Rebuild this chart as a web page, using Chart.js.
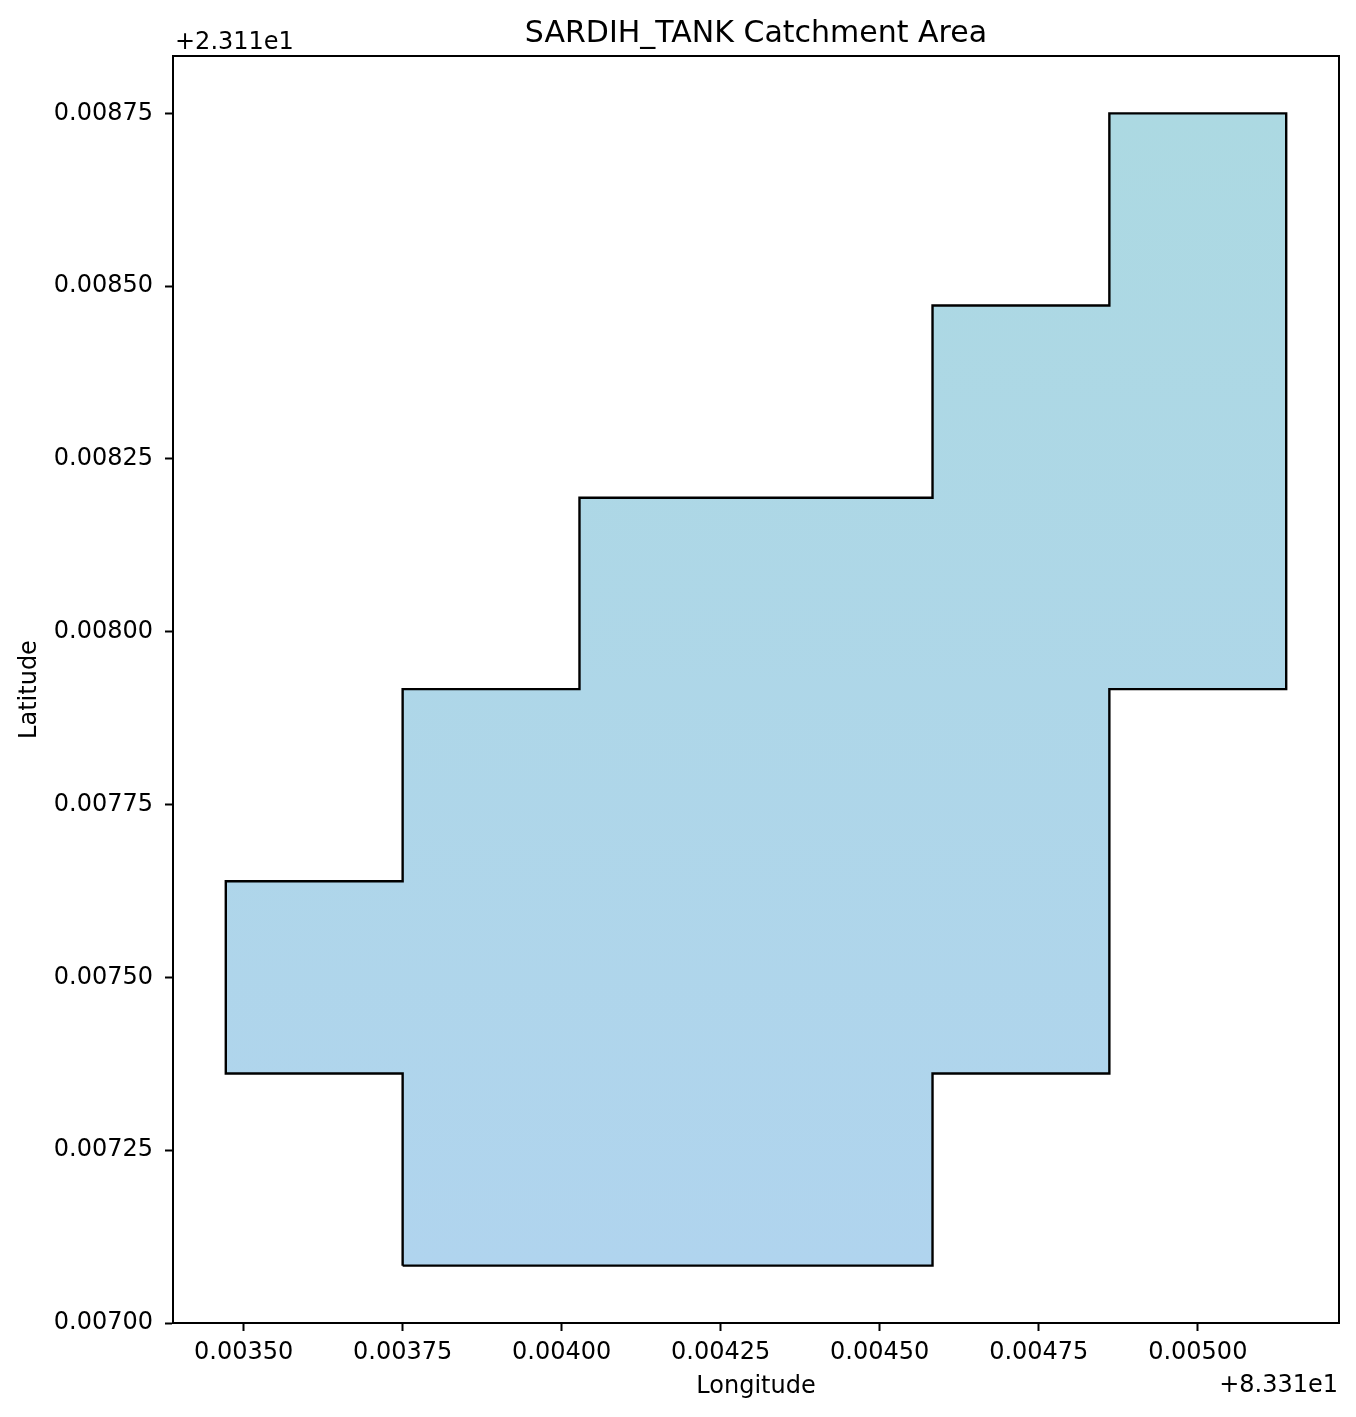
<!DOCTYPE html>
<html>
<head>
<meta charset="utf-8">
<script src="https://cdn.jsdelivr.net/npm/chart.js@4.4.1/dist/chart.umd.min.js"></script>
<style>
  html, body { margin: 0; padding: 0; background: #fff; }
  #wrap { width: 1356px; height: 1417px; }
</style>
</head>
<body>
<div id="wrap"><canvas id="catchment" width="1356" height="1417"></canvas></div>
<script>
// polygon vertices of the catchment outline (degrees), closed ring
const polyLon = [83.313750, 83.314583, 83.314583, 83.314861, 83.314861, 83.315139, 83.315139,
                 83.314861, 83.314861, 83.314583, 83.314583, 83.314028, 83.314028, 83.313750,
                 83.313750, 83.313472, 83.313472, 83.313750, 83.313750];
const polyLat = [23.117083, 23.117083, 23.117361, 23.117361, 23.117917, 23.117917, 23.118750,
                 23.118750, 23.118472, 23.118472, 23.118194, 23.118194, 23.117917, 23.117917,
                 23.117639, 23.117639, 23.117361, 23.117361, 23.117083];

const xTicks = [83.3135, 83.31375, 83.314, 83.31425, 83.3145, 83.31475, 83.315];
const xTickLabels = ['0.00350', '0.00375', '0.00400', '0.00425', '0.00450', '0.00475', '0.00500'];
const yTicks = [23.117, 23.11725, 23.1175, 23.11775, 23.118, 23.11825, 23.1185, 23.11875];
const yTickLabels = ['0.00700', '0.00725', '0.00750', '0.00775', '0.00800', '0.00825', '0.00850', '0.00875'];

const xRange = [83.313389, 83.315222];
const yRange = [23.117000, 23.118833];

const FONT = 'DejaVu Sans';

function fillColor(context) {
    const chart = context.chart;
    const area = chart.chartArea;
    if (!area) return '#add8e6';
    const y = chart.scales.y;
    const g = chart.ctx.createLinearGradient(0, y.getPixelForValue(Math.max(...polyLat)), 0, y.getPixelForValue(Math.min(...polyLat)));
    g.addColorStop(0, '#acd9e2');
    g.addColorStop(1, '#b0d4ee');
    return g;
}

// axes frame, title and matplotlib-style offset labels
const decorations = {
    id: 'decorations',
    afterDraw(chart) {
        const { ctx, chartArea: a } = chart;
        ctx.save();
        ctx.strokeStyle = '#000';
        ctx.lineWidth = 2;
        ctx.strokeRect(a.left, a.top, a.right - a.left, a.bottom - a.top);

        ctx.fillStyle = '#000';
        ctx.textBaseline = 'alphabetic';
        ctx.font = '30px "' + FONT + '"';
        ctx.textAlign = 'center';
        ctx.fillText('SARDIH_TANK Catchment Area', (a.left + a.right) / 2, a.top - 14);

        ctx.font = '24px "' + FONT + '"';
        ctx.textAlign = 'left';
        ctx.fillText('+2.311e1', a.left + 2, a.top - 7);
        ctx.textAlign = 'right';
        ctx.fillText('+8.331e1', a.right - 1, a.bottom + 69);
        ctx.restore();
    }
};

const ctx = document.getElementById('catchment').getContext('2d');
new Chart(ctx, {
    type: 'line',
    data: {
        datasets: [{
            label: 'SARDIH_TANK',
            data: polyLon.map((lon, i) => ({ x: lon, y: polyLat[i] })),
            borderColor: '#000',
            borderWidth: 2.4,
            borderJoinStyle: 'miter',
            backgroundColor: fillColor,
            fill: 'shape',
            tension: 0,
            pointRadius: 0,
            pointHoverRadius: 0,
        }],
    },
    options: {
        responsive: false,
        devicePixelRatio: 1,
        animation: false,
        events: [],
        layout: { padding: { left: 0, right: 17, top: 56, bottom: 0 } },
        plugins: { legend: { display: false }, title: { display: false }, tooltip: { enabled: false } },
        scales: {
            x: {
                type: 'linear',
                position: 'bottom',
                min: xRange[0],
                max: xRange[1],
                afterBuildTicks: (axis) => { axis.ticks = xTicks.map(v => ({ value: v })); },
                afterFit: (axis) => { axis.height = 94; },
                ticks: {
                    autoSkip: false,
                    maxRotation: 0,
                    padding: 7,
                    color: '#000',
                    font: { family: FONT, size: 24 },
                    callback: (value, index) => xTickLabels[index],
                },
                grid: { display: true, drawOnChartArea: false, drawTicks: true, tickLength: 8, tickWidth: 2, color: '#000' },
                border: { display: true, color: '#000', width: 2 },
                title: {
                    display: true,
                    text: 'Longitude',
                    color: '#000',
                    font: { family: FONT, size: 24 },
                    padding: { top: 0, bottom: 16 },
                },
            },
            y: {
                type: 'linear',
                position: 'left',
                min: yRange[0],
                max: yRange[1],
                afterBuildTicks: (axis) => { axis.ticks = yTicks.map(v => ({ value: v })); },
                afterFit: (axis) => { axis.width = 173; },
                ticks: {
                    autoSkip: false,
                    padding: 12,
                    color: '#000',
                    font: { family: FONT, size: 24 },
                    callback: (value, index) => yTickLabels[index],
                },
                grid: { display: true, drawOnChartArea: false, drawTicks: true, tickLength: 8, tickWidth: 2, color: '#000' },
                border: { display: true, color: '#000', width: 2 },
                title: {
                    display: true,
                    text: 'Latitude',
                    color: '#000',
                    font: { family: FONT, size: 24 },
                    padding: { top: 15, bottom: 0 },
                },
            },
        },
    },
    plugins: [decorations],
});
</script>
</body>
</html>
